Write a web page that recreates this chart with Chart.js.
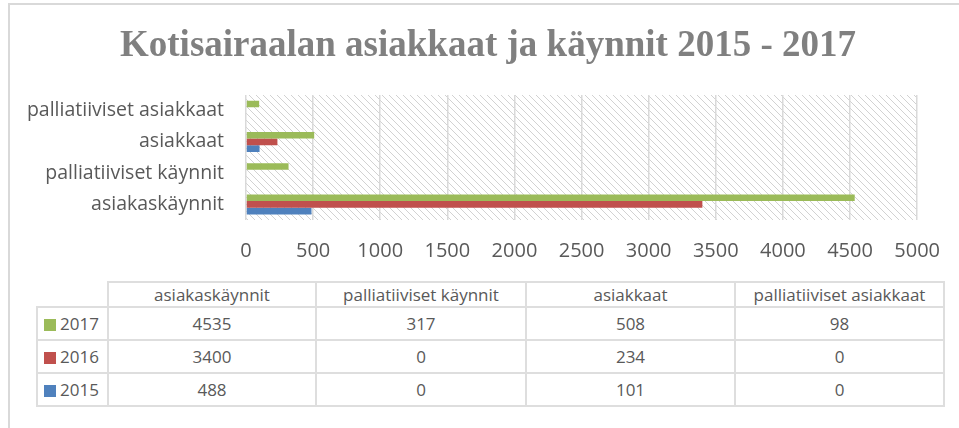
<!DOCTYPE html>
<html lang="fi">
<head>
<meta charset="UTF-8">
<title>Kotisairaalan asiakkaat ja käynnit 2015 - 2017</title>
<script src="https://cdn.jsdelivr.net/npm/chart.js"></script>
<style>
  * { box-sizing: border-box; margin: 0; padding: 0; }
  body { background: #fff; width: 959px; height: 428px; overflow: hidden; position: relative; font-family: "Open Sans", sans-serif; }
  .frame { position: absolute; left: 8px; top: 3px; width: 980px; height: 460px; border-top: 2px solid #d9d9d9; border-left: 2px solid #d9d9d9; }
  #chart { position: absolute; left: 0; top: 0; }
  table { position: absolute; left: 36px; top: 281px; border-collapse: collapse; table-layout: fixed; color: #595959; font-size: 17px; }
  td, th { border: 2px solid #dedede; text-align: center; font-weight: normal; white-space: nowrap; padding: 0; }
  thead th { height: 24px; }
  tbody td { height: 33px; }
  th.blank { border-top-color: transparent; border-left-color: transparent; }
  td.key { text-align: left; padding-left: 6px; }
  .sw { display: inline-block; width: 12px; height: 12px; margin-right: 4px; vertical-align: -1px; }
</style>
</head>
<body>
<div class="frame"></div>
<canvas id="chart" width="959" height="270"></canvas>
<table id="dataTable">
  <colgroup><col style="width:71px"><col style="width:208px"><col style="width:210px"><col style="width:209px"><col style="width:209px"></colgroup>
  <thead><tr id="headRow"><th class="blank"></th></tr></thead>
  <tbody id="bodyRows"></tbody>
</table>
<script>
  // categories in table order (bottom to top in the chart)
  const categories = ['asiakaskäynnit', 'palliatiiviset käynnit', 'asiakkaat', 'palliatiiviset asiakkaat'];
  const years = ['2017', '2016', '2015'];
  const values2017 = [4535, 317, 508, 98];
  const values2016 = [3400, 0, 234, 0];
  const values2015 = [488, 0, 101, 0];
  const colors = ['#9bbb59', '#c0504d', '#4f81bd'];
  const xTicks = [0, 500, 1000, 1500, 2000, 2500, 3000, 3500, 4000, 4500, 5000];
  const titleText = 'Kotisairaalan asiakkaat ja käynnit 2015 - 2017';

  const series = [values2017, values2016, values2015];

  // data table under the chart
  const headRow = document.getElementById('headRow');
  categories.forEach(c => {
    const th = document.createElement('th');
    th.textContent = c;
    headRow.appendChild(th);
  });
  const body = document.getElementById('bodyRows');
  years.forEach((y, i) => {
    const tr = document.createElement('tr');
    tr.innerHTML = `<td class="key"><span class="sw" style="background:${colors[i]}"></span>${y}</td>` +
      series[i].map(v => `<td>${v}</td>`).join('');
    body.appendChild(tr);
  });

  // diagonal hatch for the plot area
  function hatch() {
    const t = document.createElement('canvas');
    t.width = 7; t.height = 7;
    const c = t.getContext('2d');
    c.strokeStyle = '#d2d2d2';
    c.lineWidth = 1;
    c.beginPath();
    c.moveTo(-1, -1); c.lineTo(8, 8);
    c.moveTo(-1, 6); c.lineTo(1, 8);
    c.moveTo(6, -1); c.lineTo(8, 1);
    c.stroke();
    return t;
  }

  const plotBg = {
    id: 'plotBg',
    beforeDraw(chart) {
      const { ctx, chartArea: a } = chart;
      ctx.save();
      ctx.fillStyle = ctx.createPattern(hatch(), 'repeat');
      ctx.fillRect(a.left, a.top, a.right - a.left, a.bottom - a.top);
      ctx.restore();
    }
  };

  // title sits a bit right of the canvas centre, like the original
  const bigTitle = {
    id: 'bigTitle',
    afterDraw(chart) {
      const ctx = chart.ctx;
      ctx.save();
      ctx.font = 'bold 37px "Liberation Serif"';
      ctx.fillStyle = '#808080';
      ctx.textAlign = 'center';
      ctx.textBaseline = 'alphabetic';
      ctx.fillText(titleText, 488, 56);
      ctx.restore();
    }
  };

  new Chart(document.getElementById('chart'), {
    type: 'bar',
    data: {
      labels: categories,
      datasets: years.map((y, i) => ({
        label: y,
        data: series[i],
        backgroundColor: colors[i],
        borderWidth: 0,
        categoryPercentage: 0.64,
        barPercentage: 1
      }))
    },
    options: {
      indexAxis: 'y',
      responsive: false,
      animation: false,
      layout: { padding: { left: 0, right: 39, top: 95, bottom: 0 } },
      plugins: {
        legend: { display: false },
        tooltip: { enabled: false },
        title: { display: false }
      },
      scales: {
        x: {
          min: 0, max: 5000,
          afterBuildTicks: s => { s.ticks = xTicks.map(v => ({ value: v })); },
          afterFit: s => { s.height = 50; },
          grid: { color: '#d9d9d9', lineWidth: 1.5, drawTicks: false },
          border: { display: false },
          ticks: { color: '#595959', padding: 19, font: { family: 'Open Sans', size: 20 }, callback: v => String(v) }
        },
        y: {
          reverse: true,
          afterFit: s => { s.width = 246; },
          grid: { display: false, drawTicks: false },
          border: { display: false },
          ticks: { color: '#595959', padding: 22, font: { family: 'Open Sans', size: 19.5 } }
        }
      }
    },
    plugins: [plotBg, bigTitle]
  });
</script>
</body>
</html>
